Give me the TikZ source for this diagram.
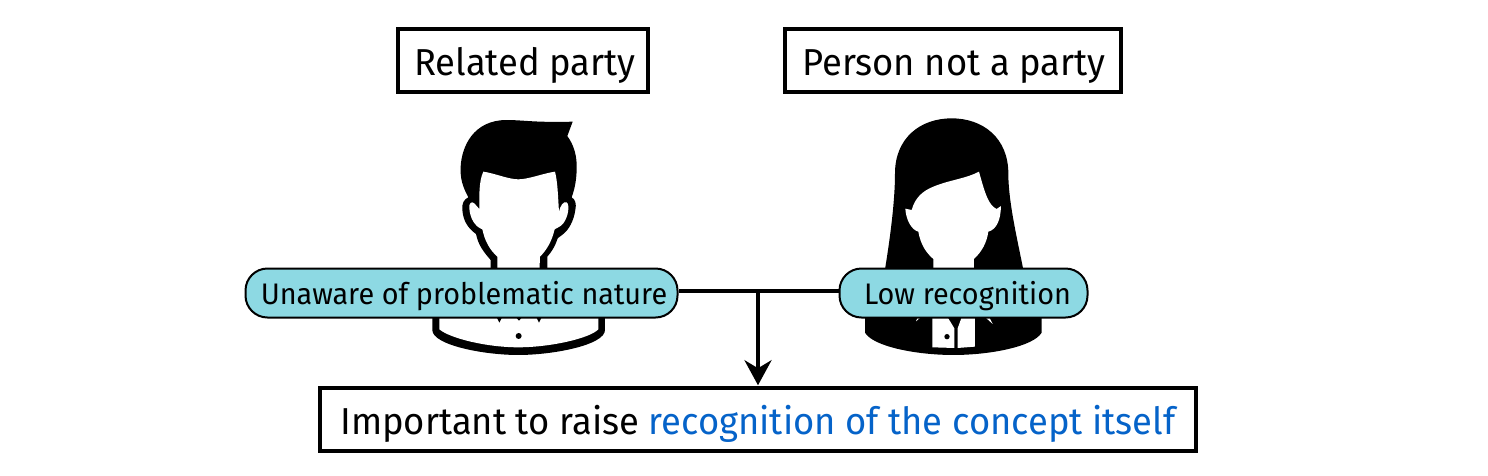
\documentclass[tikz,border=0pt]{standalone}
\usepackage{fontspec}
\setmainfont{Fira Sans}[FakeStretch=0.97]
\usetikzlibrary{arrows.meta}
\definecolor{pillfill}{HTML}{8DD9E3}
\definecolor{hiblue}{HTML}{0563C9}
\tikzset{
  x=1pt,y=-1pt,
  labelbox/.style={draw=black,line width=3.5pt,fill=white,inner sep=0pt,minimum height=63pt,font=\fontsize{37.5}{40}\selectfont,text=black,text height=30pt,text depth=0pt},
  pill/.style={draw=black,line width=2pt,fill=pillfill,rounded corners=22pt,inner sep=0pt,minimum height=49pt,font=\fontsize{29.7}{34}\selectfont,text=black,text height=22pt,text depth=0pt},
  link/.style={draw=black,line width=4pt},
  zoomed/.style={x=0.3333pt,y=-0.3333pt}
}
\begin{document}
\begin{tikzpicture}
\useasboundingbox (0,0) rectangle (1488,475);
% man
\begin{scope}[shift={(420,110)},zoomed]
\fill[black] (458,35) -- (442,78) .. controls (462,105) and (472,140) .. (470,180) .. controls (469,215) and (463,240) .. (455,262)
  .. controls (466,268) and (470,282) .. (466,300) .. controls (461,335) and (445,360) .. (430,372) -- (413,385) .. controls (405,410) and (395,425) .. (382,440) -- (382,490) -- (212,490) -- (212,450)
  .. controls (190,425) and (175,405) .. (168,372) .. controls (145,355) and (130,335) .. (127,300) .. controls (125,280) and (132,268) .. (145,262)
  .. controls (128,230) and (120,205) .. (122,170) .. controls (125,110) and (160,30) .. (260,30) .. controls (310,30) and (340,38) .. (458,35) -- cycle;
\fill[white] (190,185) .. controls (225,190) and (265,208) .. (295,208) .. controls (325,208) and (370,190) .. (405,185)
  .. controls (413,215) and (414,260) .. (417,305) .. controls (420,290) and (430,272) .. (440,277) .. controls (450,285) and (445,320) .. (430,340) .. controls (422,350) and (412,353) .. (404,358)
  .. controls (395,395) and (380,420) .. (360,440) -- (358,490) -- (232,490) -- (232,440) .. controls (210,420) and (195,395) .. (187,358)
  .. controls (165,350) and (150,325) .. (148,295) .. controls (146,280) and (155,272) .. (163,280) -- (178,297) .. controls (178,260) and (176,215) .. (190,185) -- cycle;
\fill[black] (37,615) -- (37,660) .. controls (37,705) and (190,735) .. (295,735) .. controls (400,735) and (555,705) .. (555,660) -- (555,615) -- cycle;
\fill[white] (58,615) -- (58,658) .. controls (90,685) and (200,712) .. (295,712) .. controls (390,712) and (510,685) .. (535,658) -- (535,615) -- cycle;
\fill[black] (230,622) -- (246,622) -- (238,638) -- cycle;
\fill[black] (288,622) -- (306,622) -- (297,632) -- cycle;
\fill[black] (349,622) -- (365,622) -- (357,638) -- cycle;
\fill[black] (296,678) circle [radius=9];
\end{scope}
% woman
\begin{scope}[shift={(850,110)},zoomed]
\fill[black] (305,25) .. controls (210,25) and (135,85) .. (135,190) .. controls (135,280) and (118,400) .. (103,490) -- (522,490) .. controls (505,400) and (475,280) .. (475,190) .. controls (475,85) and (400,25) .. (305,25) -- cycle;
\fill[white] (387,185) .. controls (350,205) and (300,210) .. (255,228) .. controls (215,243) and (195,265) .. (185,300)
  -- (166,296) .. controls (168,330) and (185,360) .. (205,365) .. controls (212,405) and (230,430) .. (250,447) -- (250,490) -- (372,490) -- (372,447)
  .. controls (395,425) and (410,400) .. (415,365) .. controls (440,358) and (452,330) .. (453,288) -- (440,297) .. controls (415,285) and (405,250) .. (387,185) -- cycle;
\fill[black] (45,615) -- (45,668) .. controls (70,710) and (200,735) .. (310,735) .. controls (420,735) and (550,710) .. (575,668) -- (575,615) -- cycle;
\fill[white] (247,615) -- (247,712) -- (313,714) -- (313,655) -- (293,622) -- (293,615) -- cycle;
\fill[white] (375,615) -- (375,710) -- (323,714) -- (323,655) -- (335,622) -- (335,615) -- cycle;
\fill[white] (198,634) -- (203,622) -- (212,622) -- cycle;
\fill[white] (428,642) -- (406,622) -- (418,622) -- cycle;
\fill[black] (291,680) circle [radius=8];
\end{scope}
% boxes
\node[labelbox,minimum width=250pt] (related) at (523,60.5) {\kern4pt Related party};
\node[labelbox,minimum width=336pt] (person) at (953,60.5) {\kern2pt Person not a party};
\node[labelbox,minimum width=876pt] (goal) at (758,419.5) {Important to raise \textcolor{hiblue}{recognition of the concept itself}};
\node[pill,minimum width=432pt] (unaware) at (461.5,293) {\kern5pt Unaware of problematic nature};
\node[pill,minimum width=248pt] (low) at (963.5,293) {\kern8pt Low recognition};
\coordinate (junction) at (goal.north |- 0,291);
\draw[link] (unaware.east |- 0,291) -- (low.west |- 0,291);
\draw[link,-{Stealth[length=25pt,width=27pt,inset=8pt]},shorten >=1pt] (junction) -- (goal.north);
\end{tikzpicture}
\end{document}
